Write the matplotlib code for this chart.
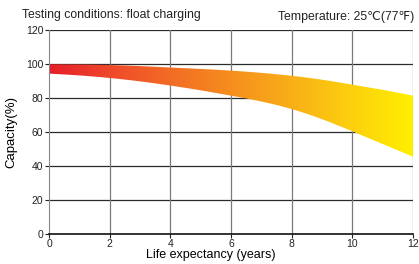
import matplotlib.pyplot as plt
import numpy as np
from matplotlib.colors import LinearSegmentedColormap
from matplotlib.path import Path
from matplotlib.patches import PathPatch

plt.rcParams['font.family'] = ['Liberation Sans', 'DejaVu Sans']

# capacity band
years = [0, 1, 2, 3, 4, 5, 6, 7, 8, 9, 10, 11, 12]
cap_upper = [100, 99.9, 99.6, 99, 98, 97.3, 96.3, 95, 93.3, 91, 88, 85, 81.5]
cap_lower = [94.5, 93.5, 92, 90, 87.5, 84.7, 81.5, 78.2, 73.8, 67.8, 60.5, 53, 45.5]

x_ticks = [0, 2, 4, 6, 8, 10, 12]
y_ticks = [0, 20, 40, 60, 80, 100, 120]

band_colors = ['#e61e2b', '#f0502a', '#f47a22', '#f8a21a', '#fcca10', '#fff000']

fig = plt.figure(figsize=(4.19, 2.64), dpi=100)
ax = fig.add_axes([0.117, 0.114, 0.869, 0.771])

ax.set_xlim(0, 12)
ax.set_ylim(0, 120)

# grid
for yv in y_ticks[1:]:
    ax.axhline(yv, color='#2b2b2b', lw=0.9, zorder=1)
for xv in x_ticks[1:]:
    ax.axvline(xv, color='#7a7a7a', lw=0.9, zorder=1)

# smooth band with horizontal gradient
xs = np.linspace(0, 12, 240)
up = np.interp(xs, years, cap_upper)
lo = np.interp(xs, years, cap_lower)
k = 21
up = np.convolve(np.pad(up, k // 2, mode='reflect', reflect_type='odd'), np.ones(k) / k, mode='valid')
lo = np.convolve(np.pad(lo, k // 2, mode='reflect', reflect_type='odd'), np.ones(k) / k, mode='valid')
verts = np.vstack([np.column_stack([xs, up]), np.column_stack([xs[::-1], lo[::-1]])])
poly = PathPatch(Path(verts), facecolor='none', edgecolor='none')
ax.add_patch(poly)
cmap = LinearSegmentedColormap.from_list('band', band_colors)
grad = np.linspace(0, 1, 256).reshape(1, -1)
im = ax.imshow(grad, cmap=cmap, extent=[0, 12, 0, 120], aspect='auto', zorder=2)
im.set_clip_path(poly)

ax.set_xticks(x_ticks)
ax.set_yticks(y_ticks)
ax.tick_params(labelsize=7.5, length=3, width=0.8, pad=1, colors='#222222')
for s in ['top', 'right']:
    ax.spines[s].set_visible(False)
ax.spines['left'].set_color('#888888')
ax.spines['bottom'].set_color('#111111')
ax.spines['bottom'].set_linewidth(1.2)

ax.set_xlabel('Life expectancy (years)', fontsize=9, va='center')
ax.xaxis.set_label_coords(0.445, -0.105)
ax.set_ylabel('Capacity(%)', fontsize=9.5, labelpad=6)

fig.text(0.053, 0.945, 'Testing conditions: float charging', fontsize=8.8, color='#222222', va='center')
fig.text(0.988, 0.935, 'Temperature: 25℃(77℉)', fontsize=8.8, color='#222222', va='center', ha='right')

fig.savefig('out.png', dpi=100)
plt.close(fig)
